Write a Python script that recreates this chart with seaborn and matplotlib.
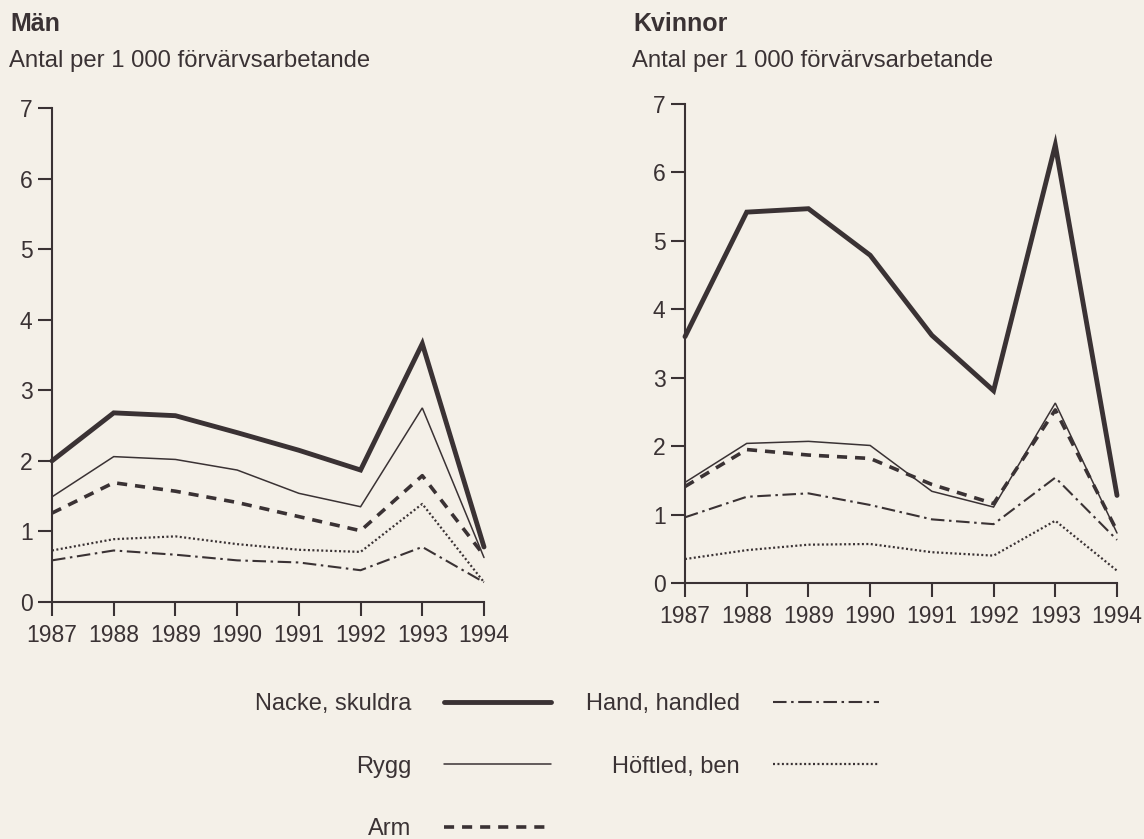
import numpy as np
import pandas as pd
import matplotlib
matplotlib.use("Agg")
import matplotlib.pyplot as plt
import seaborn as sns
from matplotlib.lines import Line2D

# ---------------- data ----------------
years = [1987, 1988, 1989, 1990, 1991, 1992, 1993, 1994]
series_names = ["Nacke, skuldra", "Rygg", "Arm", "Hand, handled", "Höftled, ben"]

man_nacke = [2.00, 2.68, 2.64, 2.40, 2.15, 1.87, 3.66, 0.78]
man_rygg = [1.49, 2.06, 2.02, 1.87, 1.54, 1.35, 2.75, 0.63]
man_arm = [1.26, 1.69, 1.57, 1.41, 1.21, 1.01, 1.79, 0.66]
man_hand = [0.59, 0.73, 0.67, 0.59, 0.56, 0.45, 0.78, 0.28]
man_hoft = [0.73, 0.89, 0.93, 0.82, 0.74, 0.71, 1.39, 0.28]

kv_nacke = [3.60, 5.42, 5.47, 4.79, 3.62, 2.81, 6.40, 1.28]
kv_rygg = [1.47, 2.04, 2.07, 2.01, 1.34, 1.11, 2.63, 0.73]
kv_arm = [1.41, 1.95, 1.87, 1.82, 1.44, 1.16, 2.53, 0.76]
kv_hand = [0.96, 1.26, 1.31, 1.14, 0.93, 0.86, 1.54, 0.63]
kv_hoft = [0.35, 0.48, 0.56, 0.57, 0.45, 0.40, 0.91, 0.18]

panel_titles = ["Män", "Kvinnor"]
subtitle = "Antal per 1 000 förvärvsarbetande"
y_ticks = [0, 1, 2, 3, 4, 5, 6, 7]

# ---------------- style ----------------
BG = "#f4f0e8"
INK = "#3a3234"
sns.set_style("ticks")
plt.rcParams["font.family"] = ["Liberation Sans", "DejaVu Sans"]

styles = {
    "Nacke, skuldra": dict(lw=3.5, ls="-"),
    "Rygg": dict(lw=1.1, ls="-"),
    "Arm": dict(lw=2.6, ls=(0, (2.8, 2.2))),
    "Hand, handled": dict(lw=1.5, ls=(0, (6.5, 2.2, 1.2, 2.2))),
    "Höftled, ben": dict(lw=1.6, ls=(0, (0.9, 1.1))),
}

def long_df(vals):
    rows = []
    for name, v in zip(series_names, vals):
        for yr, val in zip(years, v):
            rows.append({"year": yr, "value": val, "del": name})
    return pd.DataFrame(rows)

df_man = long_df([man_nacke, man_rygg, man_arm, man_hand, man_hoft])
df_kv = long_df([kv_nacke, kv_rygg, kv_arm, kv_hand, kv_hoft])

W, H = 1144, 839
fig = plt.figure(figsize=(W / 100, H / 100), dpi=100, facecolor=BG)

def px_axes(x0, x1, y0, y1):
    return fig.add_axes([x0 / W, 1 - y0 / H, (x1 - x0) / W, (y0 - y1) / H])

ax_m = px_axes(52, 484, 602, 108)
ax_k = px_axes(685, 1117, 583, 104)

for ax, df in [(ax_m, df_man), (ax_k, df_kv)]:
    ax.set_facecolor(BG)
    for name in series_names:
        st = styles[name]
        sns.lineplot(data=df[df["del"] == name], x="year", y="value", ax=ax,
                     color=INK, linewidth=st["lw"], linestyle=st["ls"],
                     errorbar=None, clip_on=False, solid_joinstyle="miter",
                     legend=False)
    ax.set_xlim(years[0], years[-1])
    ax.set_ylim(0, 7)
    ax.set_xticks(years)
    ax.set_xticklabels([str(y) for y in years])
    ax.set_yticks(y_ticks)
    ax.set_xlabel("")
    ax.set_ylabel("")
    for s in ["top", "right"]:
        ax.spines[s].set_visible(False)
    for s in ["left", "bottom"]:
        ax.spines[s].set_linewidth(1.5)
        ax.spines[s].set_color(INK)
    ax.tick_params(axis="both", direction="out", length=10, width=1.5,
                   colors=INK, labelsize=16.5, labelcolor=INK)
    ax.tick_params(axis="y", pad=4)
    ax.tick_params(axis="x", pad=6)

# titles
fig.text(10 / W, 1 - 31 / H, panel_titles[0], fontsize=18, fontweight="bold",
         color=INK, va="baseline", ha="left")
fig.text(9 / W, 1 - 67 / H, subtitle, fontsize=17.2, color=INK,
         va="baseline", ha="left")
fig.text(633 / W, 1 - 31 / H, panel_titles[1], fontsize=18, fontweight="bold",
         color=INK, va="baseline", ha="left")
fig.text(632 / W, 1 - 67 / H, subtitle, fontsize=17.2, color=INK,
         va="baseline", ha="left")

# legend
handles = [Line2D([0], [0], color=INK, linewidth=styles[n]["lw"],
                  linestyle=styles[n]["ls"]) for n in series_names]
fig.legend(handles, series_names, ncol=2, markerfirst=False, frameon=False,
           loc="upper left", bbox_to_anchor=(255 / W, 1 - 693 / H),
           fontsize=17, handlelength=4.5, handletextpad=1.4,
           columnspacing=1.5, labelspacing=1.72, borderpad=0,
           borderaxespad=0, labelcolor=INK)

fig.savefig("out.png", dpi=100, facecolor=BG)
